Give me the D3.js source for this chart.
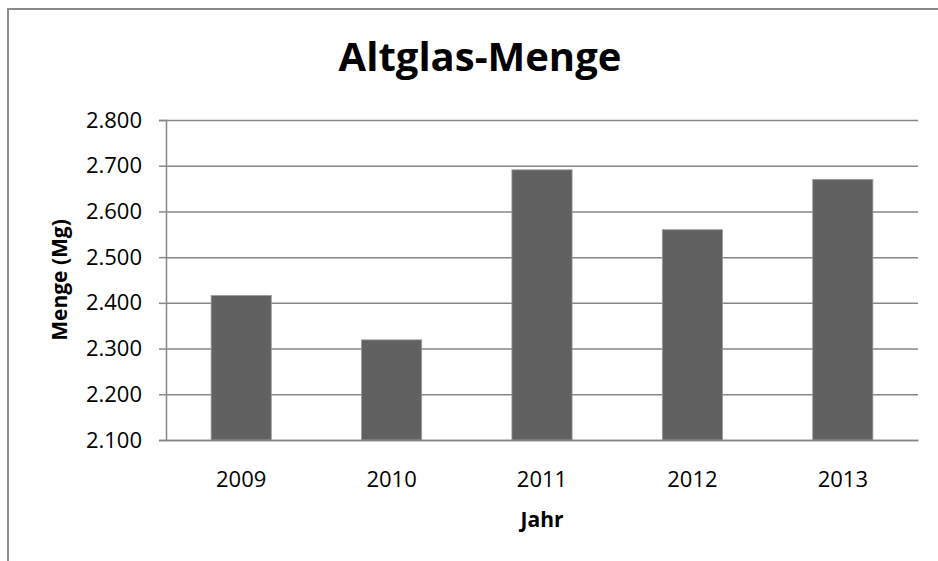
<!DOCTYPE html>
<html>
<head>
<meta charset="utf-8">
<script src="https://cdn.jsdelivr.net/npm/d3@7"></script>
<style>
  body { margin: 0; background: #fff; }
  text { font-family: "Open Sans", Lato, "Liberation Sans", sans-serif; fill: #000; }
</style>
</head>
<body>
<div id="chart"></div>
<script>
// Daten
var YEARS = ['2009', '2010', '2011', '2012', '2013'];
var MENGE = [2416, 2319, 2691, 2560, 2670];
var Y_TICKS = [2100, 2200, 2300, 2400, 2500, 2600, 2700, 2800];

var WIDTH = 938,
    HEIGHT = 561;

var margin = {top: 120, right: 20, bottom: 121, left: 166};
var width = 918 - margin.left,
    height = 440 - margin.top;

var GRID = '#878787',
    BAR = '#616161';

var svg = d3.select('#chart').append('svg')
            .attr('width', WIDTH)
            .attr('height', HEIGHT);

// Rahmen (nur links und oben sichtbar)
svg.append('rect')
   .attr('x', 8)
   .attr('y', 9)
   .attr('width', WIDTH)
   .attr('height', HEIGHT)
   .attr('fill', 'none')
   .attr('stroke', '#8a8a8a')
   .attr('stroke-width', 2);

var g = svg.append('g')
           .attr('transform', `translate(${margin.left},${margin.top})`);

var x = d3.scaleBand().range([0, width])
                      .domain(YEARS)
                      .paddingInner(0.6)
                      .paddingOuter(0.3);

var y = d3.scaleLinear().range([height, 0])
                        .domain([2100, 2800]);

var fmt = d => d3.format(',')(d).replace(',', '.');

// Gitterlinien
g.append('g')
 .attr('class', 'grid')
 .call(d3.axisLeft(y).tickValues(Y_TICKS).tickSize(-width).tickFormat(''))
 .call(s => s.select('.domain').remove())
 .call(s => s.selectAll('line').attr('stroke', GRID).attr('stroke-width', 1.5));

// Balken
g.selectAll('.bar')
 .data(MENGE)
 .enter()
 .append('rect')
 .attr('class', 'bar')
 .attr('x', (d, i) => x(YEARS[i]))
 .attr('y', d => y(d))
 .attr('width', x.bandwidth())
 .attr('height', d => height - y(d))
 .attr('fill', BAR)
 .attr('stroke', '#9a9a9a')
 .attr('stroke-width', 0.8);

// y-Achse
g.append('g')
 .attr('class', 'axis axis--y')
 .call(d3.axisLeft(y).tickValues(Y_TICKS).tickSize(7).tickPadding(17).tickFormat(fmt))
 .call(s => s.select('.domain').attr('stroke', GRID).attr('stroke-width', 1.5))
 .call(s => s.selectAll('line').attr('stroke', GRID).attr('stroke-width', 1.5))
 .call(s => s.selectAll('text').style('font-size', '22px').attr('fill', '#000'));

// x-Achse
g.append('g')
 .attr('class', 'axis axis--x')
 .attr('transform', 'translate(0,' + height + ')')
 .call(d3.axisBottom(x).tickSize(0).tickPadding(31))
 .call(s => s.select('.domain').attr('stroke', GRID).attr('stroke-width', 1.5))
 .call(s => s.selectAll('text').style('font-size', '22px').attr('fill', '#000'));

// Titel
svg.append('text')
   .attr('x', 480)
   .attr('y', 71)
   .attr('text-anchor', 'middle')
   .style('font-size', '40px')
   .style('font-weight', 'bold')
   .text('Altglas-Menge');

svg.append('text')
   .attr('transform', 'translate(67,' + (margin.top + height / 2) + ') rotate(-90)')
   .attr('text-anchor', 'middle')
   .style('font-size', '21px')
   .style('font-weight', 'bold')
   .text('Menge (Mg)');

svg.append('text')
   .attr('x', margin.left + width / 2)
   .attr('y', 527)
   .attr('text-anchor', 'middle')
   .style('font-size', '21px')
   .style('font-weight', 'bold')
   .text('Jahr');
</script>
</body>
</html>
